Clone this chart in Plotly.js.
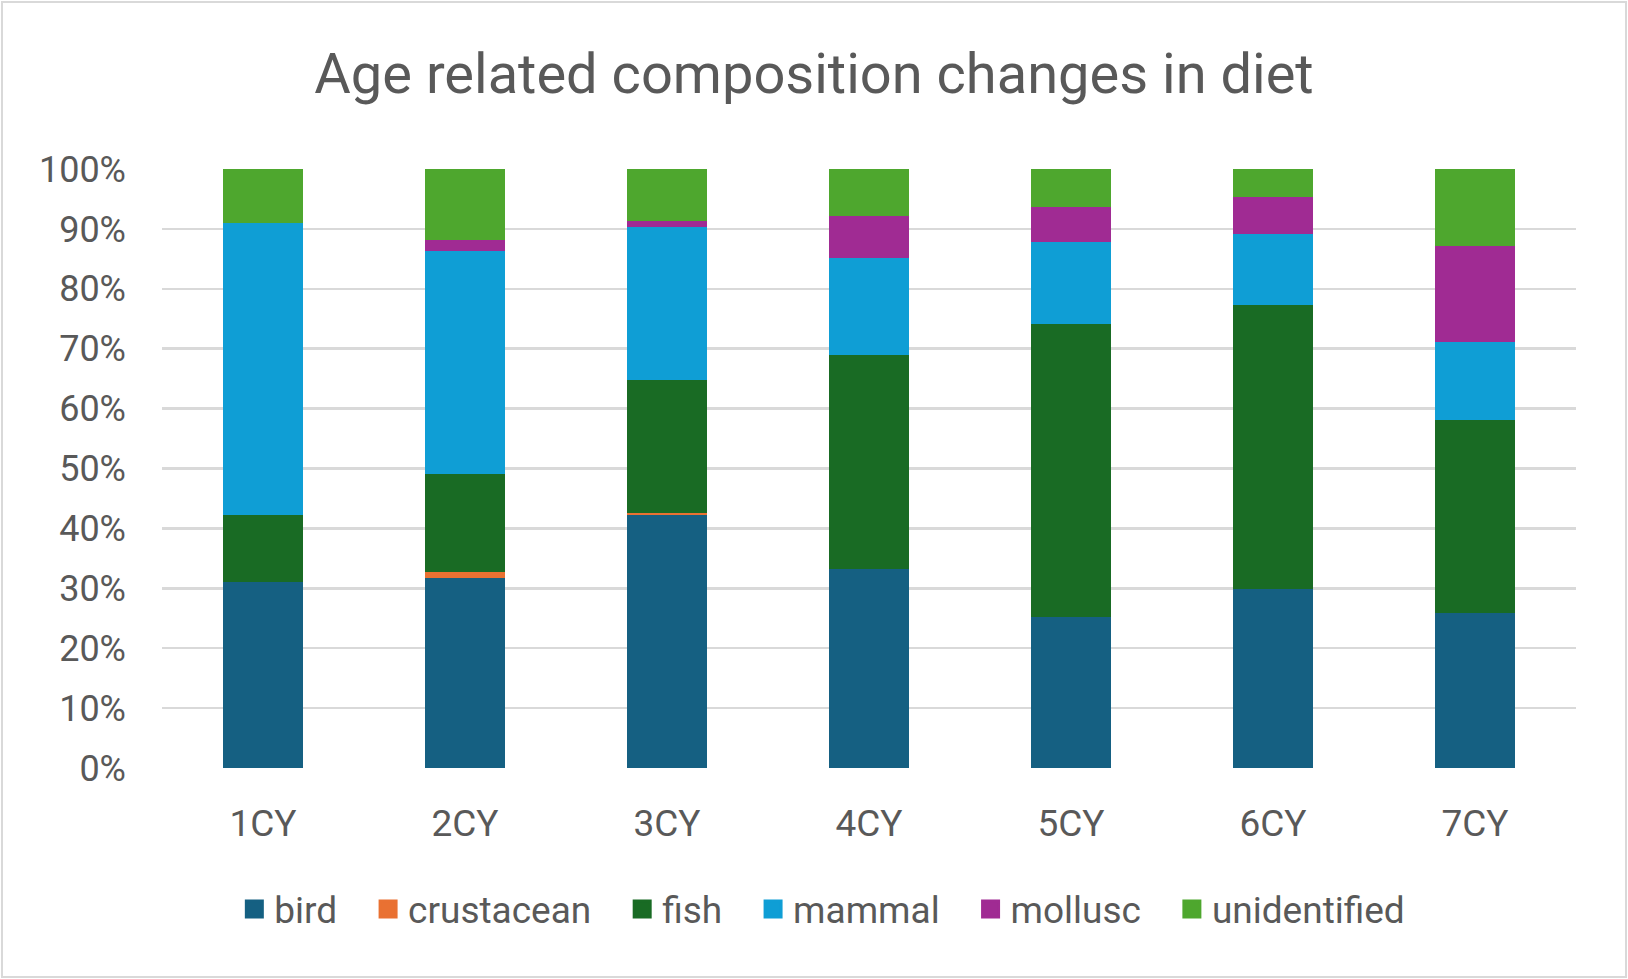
<!DOCTYPE html>
<html>
<head>
<meta charset="utf-8">
<script src="https://cdn.plot.ly/plotly-3.0.1.min.js"></script>
<style>
  html, body { margin: 0; padding: 0; background: #ffffff; }
  #wrap { position: relative; width: 1628px; height: 979px; }
  #chart { width: 1628px; height: 979px; }
  #frame { position: absolute; left: 1px; top: 1px; right: 1px; bottom: 1px; border: 2px solid #d9d9d9; pointer-events: none; }
</style>
</head>
<body>
<div id="wrap"><div id="chart"></div><div id="frame"></div></div>
<script>
const categories = ["1CY", "2CY", "3CY", "4CY", "5CY", "6CY", "7CY"];
const bird         = [31.0, 31.7, 42.2, 33.2, 25.2, 29.9, 25.9];
const crustacean   = [0.0, 1.1, 0.3, 0.0, 0.0, 0.0, 0.0];
const fish         = [11.2, 16.3, 22.2, 35.7, 48.9, 47.4, 32.2];
const mammal       = [48.8, 37.2, 25.6, 16.3, 13.7, 11.8, 13.1];
const mollusc      = [0.0, 1.8, 1.1, 6.9, 5.8, 6.3, 15.9];
const unidentified = [9.0, 11.9, 8.6, 7.9, 6.4, 4.6, 12.9];
const yTickVals = [0, 10, 20, 30, 40, 50, 60, 70, 80, 90, 100];
const yTickText = ["0%", "10%", "20%", "30%", "40%", "50%", "60%", "70%", "80%", "90%", "100%"];

const seriesNames = ["bird", "crustacean", "fish", "mammal", "mollusc", "unidentified"];
const seriesValues = [bird, crustacean, fish, mammal, mollusc, unidentified];
const seriesColors = ["#156082", "#E97132", "#196B24", "#0F9ED5", "#A02B93", "#4EA72E"];

const FONT = "Roboto, 'Open Sans', sans-serif";
const PAD = "\u00A0\u00A0\u2009"; // extra spacing between legend entries

const bars = seriesNames.map((n, i) => ({
  type: "bar",
  name: n,
  legendgroup: n,
  showlegend: false,
  x: categories,
  y: seriesValues[i],
  marker: { color: seriesColors[i], line: { width: 0 } },
  hoverinfo: "name+y"
}));

// legend-only entries (larger square swatches like the original)
const legendEntries = seriesNames.map((n, i) => ({
  type: "scatter",
  mode: "markers",
  name: i < seriesNames.length - 1 ? n + PAD : n,
  legendgroup: n,
  showlegend: true,
  x: [null],
  y: [null],
  marker: { symbol: "square", size: 16, color: seriesColors[i], line: { width: 3, color: seriesColors[i] } },
  hoverinfo: "skip"
}));

const layout = {
  width: 1628,
  height: 979,
  barmode: "stack",
  bargap: 0.6,
  paper_bgcolor: "#ffffff",
  plot_bgcolor: "#ffffff",
  margin: { l: 162, r: 52, t: 169, b: 211 },
  font: { family: FONT, color: "#595959" },
  title: {
    text: "Age related composition changes in diet",
    font: { family: FONT, size: 56, color: "#595959" },
    x: 0.5, xanchor: "center",
    y: 1 - 73 / 979, yanchor: "middle", yref: "container"
  },
  xaxis: {
    type: "category",
    tickfont: { family: FONT, size: 37, color: "#595959" },
    showgrid: false,
    showline: false,
    ticks: "",
    ticklabelstandoff: 30,
    fixedrange: true
  },
  yaxis: {
    range: [0, 100],
    tickvals: yTickVals,
    ticktext: yTickText,
    tickfont: { family: FONT, size: 36, color: "#595959" },
    showgrid: true,
    gridcolor: "#d9d9d9",
    gridwidth: 2.5,
    zeroline: false,
    showline: false,
    ticks: "",
    ticklabelstandoff: 35,
    fixedrange: true
  },
  showlegend: true,
  legend: {
    orientation: "h",
    x: 0.467, xanchor: "center",
    y: -0.236, yanchor: "middle",
    font: { family: FONT, size: 37, color: "#595959" },
    itemwidth: 30,
    itemsizing: "trace",
    traceorder: "normal",
    itemclick: false
  }
};

Plotly.newPlot("chart", bars.concat(legendEntries), layout, { displayModeBar: false, staticPlot: true });
</script>
</body>
</html>
